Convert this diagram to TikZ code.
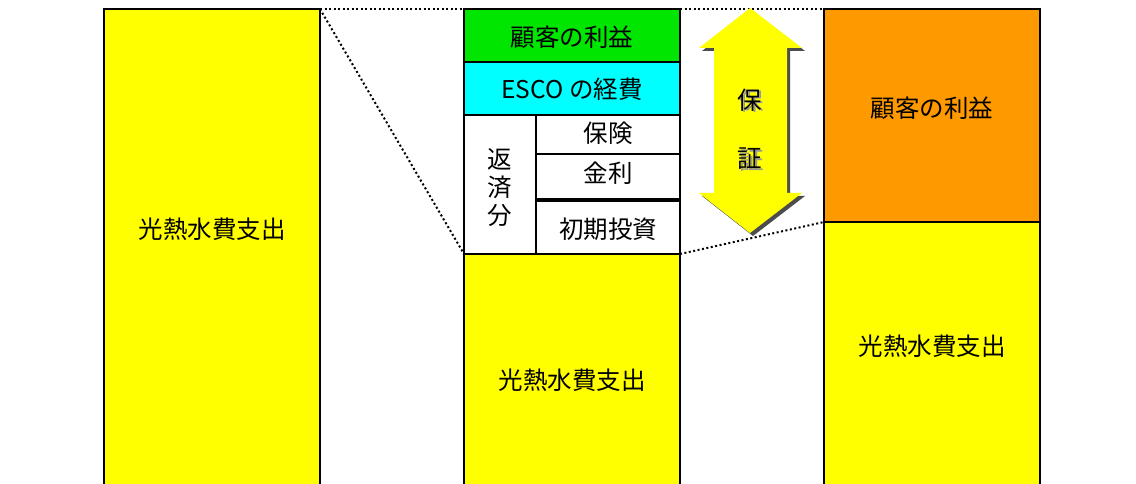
\documentclass[tikz,border=0pt]{standalone}
\usepackage{fontspec}
\setmainfont{Noto Sans CJK JP}
\begin{document}
\begin{tikzpicture}[x=1pt,y=-1pt,
  box/.style={draw=black,line width=1.4pt},
  lbl/.style={font=\fontsize{24.5}{26}\selectfont,inner sep=0pt},
  dots/.style={line width=2pt,dash pattern=on 2pt off 2.5pt}]
\useasboundingbox (0,0) rectangle (1136,484);
\definecolor{yel}{RGB}{255,255,0}
\definecolor{grn}{RGB}{0,230,0}
\definecolor{cyn}{RGB}{0,255,255}
\definecolor{org}{RGB}{255,153,0}
% left column
\draw[box,fill=yel] (104,500) -- (104,9) -- (320,9) -- (320,500);
\node[lbl] (l1) at (212,229) {光熱水費支出};
% middle column
\draw[box,fill=yel] (464,500) -- (464,254) -- (680,254) -- (680,500);
\draw[box,fill=grn] (464,9) rectangle (680,62);
\draw[box,fill=cyn] (464,62) rectangle (680,115);
\draw[box,fill=white] (464,115) rectangle (536,254);
\draw[box,fill=white] (536,115) rectangle (680,154);
\draw[box,fill=white] (536,154) rectangle (680,199);
\draw[box,fill=white] (536,201) rectangle (680,254);
\node[lbl] (m1) at (572,37) {顧客の利益};
\node[lbl] (m2) at (572,89) {ESCO の経費};
\node[lbl,align=center] (m3) at (500,188) {返\\[2pt]済\\[2pt]分};
\node[lbl] (m4) at (608,133) {保険};
\node[lbl] (m5) at (608,173) {金利};
\node[lbl] (m6) at (608,229) {初期投資};
\node[lbl] (m7) at (572,380) {光熱水費支出};
% right column
\draw[box,fill=yel] (824,500) -- (824,222) -- (1040,222) -- (1040,500);
\draw[box,fill=org] (824,9) rectangle (1040,222);
\node[lbl] (r1) at (932,108) {顧客の利益};
\node[lbl] (r2) at (932,346) {光熱水費支出};
% dotted connectors
\coordinate (a1) at (320,9); \coordinate (a2) at (464,9);
\coordinate (a3) at (464,254); \coordinate (a4) at (680,9);
\coordinate (a5) at (824,9); \coordinate (a6) at (680,254);
\coordinate (a7) at (824,222);
\draw[dots] (a1) -- (a2);
\draw[dots] (a1) -- (a3);
\draw[dots] (a4) -- (a5);
\draw[dots] (a6) -- (a7);
% arrow
\draw[fill=black!70,draw=none,shift={(3,3)}] (750,8) -- (802,48) -- (787,48) -- (787,193) -- (802,193) -- (750,233) -- (699,193) -- (714,193) -- (714,48) -- (699,48) -- cycle;
\fill[yel] (750,8) -- (802,48) -- (787,48) -- (787,193) -- (802,193) -- (750,233) -- (699,193) -- (714,193) -- (714,48) -- (699,48) -- cycle;
\node[lbl,text=black!40] at (751.5,101.5) {保};
\node[lbl,text=black!40] at (751.5,160.5) {証};
\node[lbl] (g1) at (750,100) {保};
\node[lbl] (g2) at (750,159) {証};
\end{tikzpicture}
\end{document}
